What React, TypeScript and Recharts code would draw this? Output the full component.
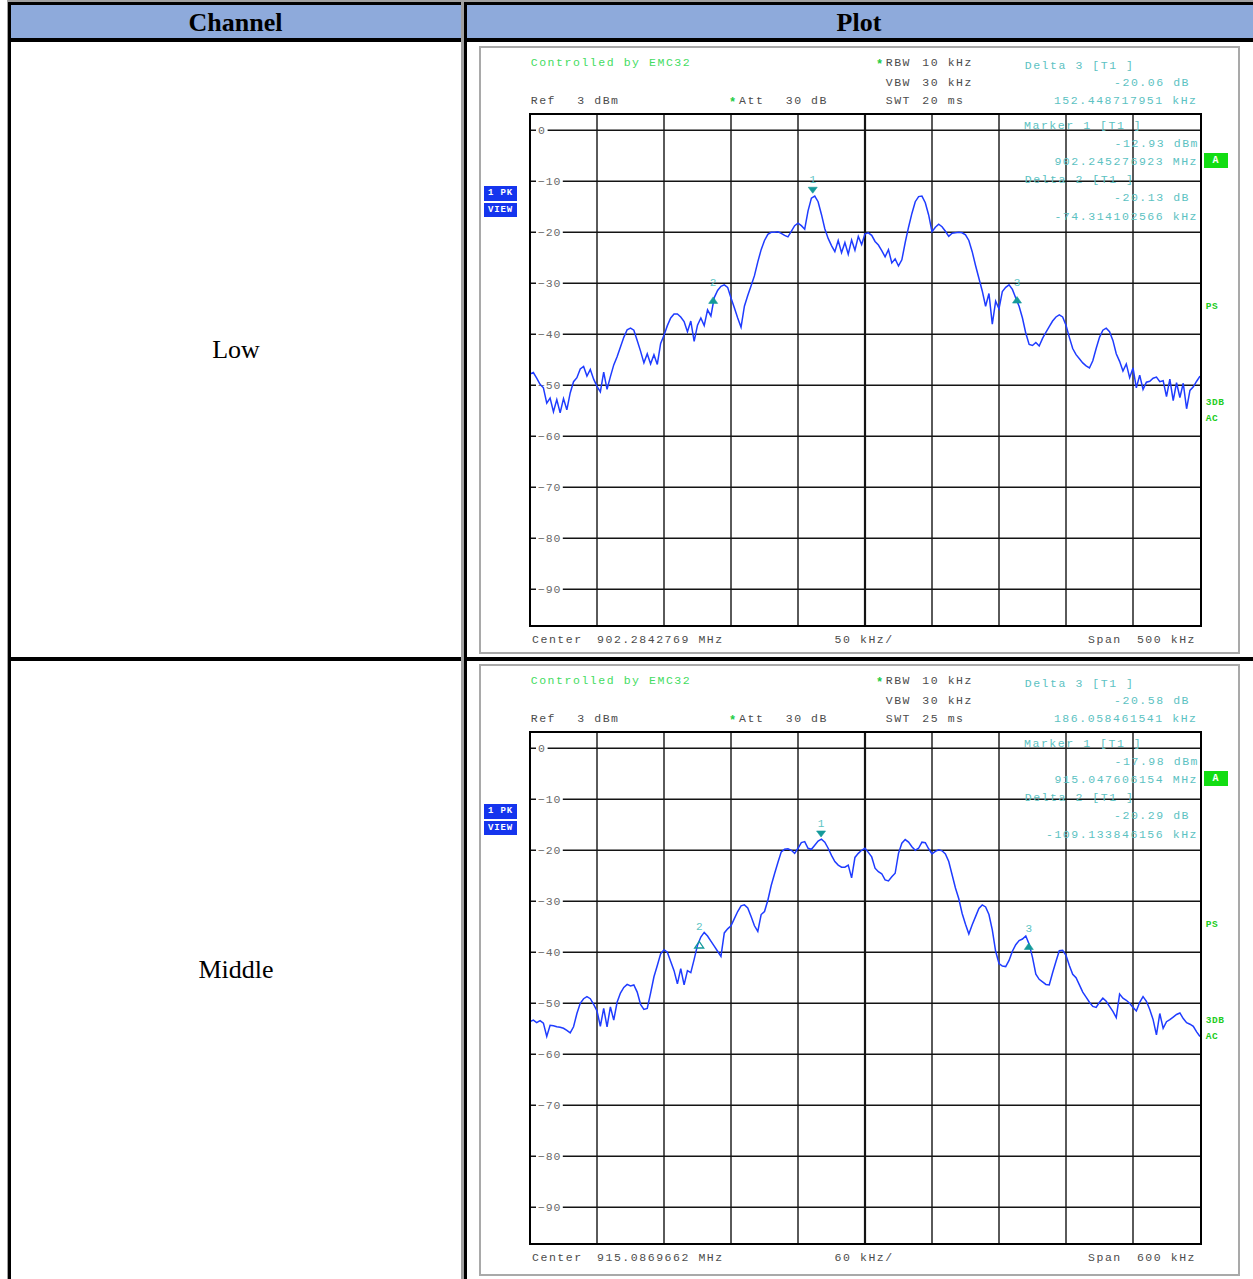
import React from 'react';
import { LineChart, Line, XAxis, YAxis, ReferenceLine, ReferenceDot } from 'recharts';

const PAGE_W = 1253;
const PAGE_H = 1279;
const MONO = '"Liberation Mono", "DejaVu Sans Mono", monospace';
const SERIF = '"Liberation Serif", "Times New Roman", serif';

const GRAY_TXT = '#4c4c4c';
const TEAL_TXT = '#5cc2c2';
const GREEN_TXT = '#44dc62';
const TRACE = '#1f3cff';
const MARK = '#149a9a';

// screen geometry of the analyzer graticule
const PLOT_X = 530;
const PLOT_Y = 115;
const PLOT_W = 670;
const PLOT_H = 510;
const REF_LEVEL = 3;
const LEVEL_RANGE = 100;

const CHANNELS = ['Low', 'Middle'];
const LEVEL_TICKS = [0, -10, -20, -30, -40, -50, -60, -70, -80, -90];
const DIVISIONS = [1, 2, 3, 4, 5, 6, 7, 8, 9];

// trace levels (dBm), 201 sweep points across the span
const LOW_LEVELS = [
  -47.8, -47.5, -48.6, -49.8, -50.5, -53.5, -52.5, -55.2, -52.8, -55.4,
  -52.6, -54.8, -51.5, -49.3, -48.5, -46.8, -46.3, -48.2, -46.9, -48.8,
  -50.2, -51.3, -47.4, -50.8, -48.3, -46.0, -44.4, -42.5, -40.6, -39.1,
  -38.8, -39.2, -41.2, -43.3, -45.6, -43.8, -45.8, -44.0, -45.9, -41.8,
  -40.2, -38.3, -36.8, -36.0, -36.0, -36.6, -37.5, -39.5, -37.4, -41.4,
  -38.2, -36.8, -38.3, -35.2, -36.4, -32.8, -31.4, -30.6, -30.3, -30.8,
  -32.9, -34.8, -36.8, -38.6, -34.5, -32.4, -30.5, -28.5, -25.8, -23.4,
  -21.6, -20.4, -20.0, -20.0, -19.9, -20.2, -20.6, -20.9, -19.8, -18.7,
  -18.2, -18.7, -19.4, -15.8, -13.3, -12.9, -14.0, -16.5, -19.3, -21.2,
  -22.6, -23.8, -21.6, -24.0, -22.0, -24.3, -21.5, -23.5, -20.8, -22.4,
  -20.3, -20.1, -20.6, -21.8, -22.5, -23.6, -24.8, -23.4, -26.0, -25.2,
  -26.6, -25.4, -22.0, -19.0, -16.3, -14.0, -13.0, -12.9, -14.2, -16.6,
  -19.9, -19.0, -18.4, -18.9, -19.8, -20.8, -20.2, -20.1, -20.0, -20.1,
  -20.5, -21.6, -23.8, -26.5, -29.0, -31.5, -34.5, -32.0, -38.0, -33.5,
  -35.0, -31.6, -30.8, -30.3, -31.2, -32.9, -34.5, -36.8, -39.8, -42.0,
  -42.2, -41.6, -42.3, -40.8, -39.6, -38.5, -37.4, -36.6, -36.2, -36.6,
  -38.2, -40.6, -42.8, -44.0, -44.8, -45.6, -46.2, -46.6, -45.2, -42.8,
  -40.6, -39.2, -38.8, -39.5, -41.2, -43.8, -45.3, -47.2, -45.8, -48.5,
  -46.6, -50.5, -48.0, -50.8, -49.4, -49.2, -48.6, -48.4, -49.3, -49.1,
  -52.2, -48.8, -53.0, -49.5, -52.4, -49.6, -54.6, -51.0, -50.3, -49.2,
  -48.2,
];

const MID_LEVELS = [
  -53.6, -53.3, -53.8, -53.4, -53.9, -56.5, -54.3, -54.4, -54.6, -54.7,
  -54.9, -55.3, -55.8, -54.6, -52.0, -50.0, -49.1, -48.7, -49.1, -50.2,
  -51.5, -54.5, -51.0, -54.6, -50.7, -53.3, -49.8, -48.0, -46.9, -46.3,
  -46.6, -46.4, -47.8, -50.2, -51.2, -51.0, -48.0, -44.8, -42.6, -40.3,
  -39.5, -40.0, -41.8, -43.6, -46.2, -43.2, -46.4, -43.6, -44.0, -41.4,
  -38.6, -37.0, -36.1, -36.8, -37.8, -38.8, -39.8, -40.8, -36.2, -35.4,
  -34.8, -33.4, -32.0, -30.9, -30.7, -31.3, -33.0, -34.8, -35.9, -32.6,
  -32.0, -29.8, -26.9, -24.6, -22.4, -20.3, -19.8, -19.7, -20.0, -20.6,
  -19.6, -18.5, -18.3, -19.6, -19.8, -19.0, -18.2, -17.8, -18.4, -19.6,
  -21.0, -22.2, -22.9, -23.3, -23.3, -22.9, -25.4, -21.4, -20.6, -20.0,
  -19.6, -20.4, -21.3, -23.5, -24.2, -24.6, -25.8, -26.0, -25.2, -24.5,
  -20.6, -18.6, -17.9, -18.4, -19.3, -20.0, -19.6, -18.4, -18.5, -19.7,
  -20.7, -20.2, -19.9, -20.1, -20.7, -22.2, -24.8, -27.4, -29.5, -32.4,
  -34.5, -36.4, -34.6, -33.0, -31.4, -30.7, -31.1, -32.6, -35.6, -39.8,
  -42.2, -42.7, -42.8, -41.6, -39.8, -38.5, -37.7, -37.4, -36.8, -38.4,
  -41.0, -44.3, -45.3, -45.8, -46.3, -46.4, -44.0, -41.8, -39.7, -39.6,
  -40.6, -42.6, -44.3, -45.0, -46.4, -47.8, -48.8, -49.8, -50.6, -50.8,
  -49.8, -49.0, -49.6, -50.6, -51.6, -52.8, -48.2, -49.0, -49.4, -50.0,
  -50.8, -51.5, -49.8, -48.7, -49.6, -51.2, -53.2, -56.2, -52.0, -54.9,
  -53.6, -53.2, -52.7, -52.2, -51.9, -53.0, -53.8, -54.1, -54.5, -55.6,
  -56.5,
];

// markers: offset from center (kHz) and level (dBm)
type Mk = { id: string; f: number; v: number; kind: 'down' | 'up'; hollow?: boolean };
const LOW_MARKERS: Mk[] = [
  { id: '1', f: -39.0, v: -12.93, kind: 'down' },
  { id: '2', f: -113.31, v: -33.06, kind: 'up' },
  { id: '3', f: 113.45, v: -32.99, kind: 'up' },
];
const MID_MARKERS: Mk[] = [
  { id: '1', f: -39.36, v: -17.98, kind: 'down' },
  { id: '2', f: -148.49, v: -38.27, kind: 'up', hollow: true },
  { id: '3', f: 146.7, v: -38.56, kind: 'up' },
];

// delta 3 level, delta 3 freq, marker 1 level, marker 1 freq, delta 2 level, delta 2 freq
const LOW_READOUT = ['-20.06 dB', '152.448717951 kHz', '-12.93 dBm', '902.245276923 MHz', '-20.13 dB', '-74.314102566 kHz'];
const MID_READOUT = ['-20.58 dB', '186.058461541 kHz', '-17.98 dBm', '915.047606154 MHz', '-20.29 dB', '-109.133846156 kHz'];

// sweep time, center frequency, per-division, span
const LOW_SWEEP = ['20 ms', '902.2842769 MHz', '50 kHz/', '500 kHz'];
const MID_SWEEP = ['25 ms', '915.0869662 MHz', '60 kHz/', '600 kHz'];
const SPANS = [500, 600];

type TxtProps = {
  x?: number; r?: number; y: number; color?: string; size?: number;
  bold?: boolean; spacing?: number; children: React.ReactNode;
};

const Txt = ({ x = 0, r, y, color = GRAY_TXT, size = 11.5, bold = false, spacing = 1.55, children }: TxtProps) => (
  <div
    style={{
      position: 'absolute',
      top: y - 7,
      ...(r !== undefined ? { right: PAGE_W - r - 1 - spacing } : { left: x - 1 }),
      height: 16,
      lineHeight: '16px',
      fontFamily: MONO,
      fontSize: size,
      letterSpacing: spacing,
      color,
      whiteSpace: 'pre',
      fontWeight: bold ? 700 : 400,
    }}
  >
    {children}
  </div>
);

const Badge = ({ x, y, w, h, bg, text, size = 9 }: { x: number; y: number; w: number; h: number; bg: string; text: string; size?: number }) => (
  <div
    style={{
      position: 'absolute', left: x, top: y, width: w, height: h, background: bg, color: '#fff',
      fontFamily: MONO, fontWeight: 700, fontSize: size, lineHeight: `${h}px`, textAlign: 'center',
      letterSpacing: 0.8, whiteSpace: 'pre',
    }}
  >
    {text}
  </div>
);

// graticule level label, written over a white patch on its line
const levelLabel = (value: number) => (props: any) => {
  const vb = props.viewBox || { x: 0, y: 0 };
  const text = value < 0 ? `\u2212${Math.abs(value)}` : String(value);
  return (
    <g>
      <rect x={vb.x + 6} y={vb.y - 6} width={4 + text.length * 7.6} height={12} fill="#fff" />
      <text x={vb.x + 8} y={vb.y + 4} fill="#6a6a6a" fontFamily={MONO} fontSize={11.5} style={{ letterSpacing: 0.8 }}>
        {text}
      </text>
    </g>
  );
};

const MarkerGlyph = ({ cx, cy, m }: { cx: number; cy: number; m: Mk }) => {
  const tri = m.kind === 'down'
    ? `${cx - 4.5},${cy - 9} ${cx + 4.5},${cy - 9} ${cx},${cy - 3}`
    : `${cx - 4.5},${cy + 4.5} ${cx + 4.5},${cy + 4.5} ${cx},${cy - 2}`;
  return (
    <g>
      <polygon points={tri} fill={m.hollow ? 'none' : MARK} stroke={MARK} strokeWidth={m.hollow ? 1.3 : 0.6} />
      <text x={cx} y={cy - 13} textAnchor="middle" fill="#5cc4c4" fontFamily={MONO} fontSize={11}>
        {m.id}
      </text>
    </g>
  );
};

type PanelProps = { dy: number; frameH: number; span: number; levels: number[]; markers: Mk[]; readout: string[]; sweep: string[] };

const SpectrumPanel = ({ dy, frameH, span, levels, markers, readout, sweep }: PanelProps) => {
  const half = span / 2;
  const step = span / (levels.length - 1);
  const data = levels.map((v, i) => ({ f: -half + i * step, v }));
  const vlines = DIVISIONS.map((k) => -half + (k * span) / 10);

  return (
    <>
      {/* light frame round the screenshot */}
      <div style={{ position: 'absolute', left: 479, top: 46 + dy, width: 761, height: frameH, border: '2px solid #a9a9a9', boxSizing: 'border-box' }} />

      <Txt x={531.7} y={62 + dy} color={GREEN_TXT}>Controlled by EMC32</Txt>
      <Txt x={531.7} y={100 + dy}>Ref</Txt>
      <Txt x={578.3} y={100 + dy}>3 dBm</Txt>
      <Txt x={730} y={102 + dy} color="#22cc44" size={12} bold spacing={0}>*</Txt>
      <Txt x={740} y={100 + dy}>Att</Txt>
      <Txt x={786.7} y={100 + dy}>30 dB</Txt>
      <Txt x={877} y={64 + dy} color="#22cc44" size={12} bold spacing={0}>*</Txt>
      <Txt x={886.7} y={62 + dy}>RBW</Txt>
      <Txt x={923.3} y={62 + dy}>10 kHz</Txt>
      <Txt x={886.7} y={82 + dy}>VBW</Txt>
      <Txt x={923.3} y={82 + dy}>30 kHz</Txt>
      <Txt x={886.7} y={100 + dy}>SWT</Txt>
      <Txt x={923.3} y={100 + dy}>{sweep[0]}</Txt>

      <Txt x={1025.7} y={64.5 + dy} color={TEAL_TXT}>Delta 3 [T1 ]</Txt>
      <Txt r={1187.5} y={82 + dy} color={TEAL_TXT}>{readout[0]}</Txt>
      <Txt r={1195} y={100 + dy} color={TEAL_TXT}>{readout[1]}</Txt>

      <Badge x={484} y={186 + dy} w={33} h={15} bg="#1535ee" text="1 PK" />
      <Badge x={484} y={203 + dy} w={33} h={14} bg="#1535ee" text="VIEW" />

      <div style={{ position: 'absolute', left: PLOT_X, top: PLOT_Y + dy }}>
        <LineChart width={PLOT_W} height={PLOT_H} data={data} margin={{ top: 0, right: 0, bottom: 0, left: 0 }}>
          <XAxis dataKey="f" type="number" domain={[-half, half]} hide allowDataOverflow />
          <YAxis type="number" domain={[REF_LEVEL - LEVEL_RANGE, REF_LEVEL]} hide allowDataOverflow />
          {vlines.map((f) => (
            <ReferenceLine key={`v${f}`} x={f} stroke="#141414" strokeWidth={Math.abs(f) < 1e-9 ? 2.2 : 1.4} />
          ))}
          {LEVEL_TICKS.map((v) => (
            <ReferenceLine key={`h${v}`} y={v} stroke="#141414" strokeWidth={1.4} label={levelLabel(v)} />
          ))}
          <Line type="linear" dataKey="v" stroke={TRACE} strokeWidth={1.5} dot={false} isAnimationActive={false} />
          {markers.map((m) => (
            <ReferenceDot
              key={m.id}
              x={m.f}
              y={m.v}
              r={3}
              shape={(p: any) => <MarkerGlyph cx={p.cx} cy={p.cy} m={m} />}
            />
          ))}
        </LineChart>
      </div>
      <div style={{ position: 'absolute', left: 529, top: 113 + dy, width: 673, height: 514, border: '2px solid #000', boxSizing: 'border-box' }} />

      <Txt x={1025} y={125 + dy} color={TEAL_TXT}>Marker 1 [T1 ]</Txt>
      <Txt r={1196.5} y={142.5 + dy} color={TEAL_TXT}>{readout[2]}</Txt>
      <Txt r={1195.5} y={161 + dy} color={TEAL_TXT}>{readout[3]}</Txt>
      <Txt x={1025.7} y={179 + dy} color={TEAL_TXT}>Delta 2 [T1 ]</Txt>
      <Txt r={1187.5} y={196.7 + dy} color={TEAL_TXT}>{readout[4]}</Txt>
      <Txt r={1195.5} y={215.5 + dy} color={TEAL_TXT}>{readout[5]}</Txt>

      <Badge x={1204} y={153 + dy} w={24} h={15} bg="#12dd12" text="A" size={10} />
      <Txt x={1206.7} y={306 + dy} color="#22cc22" size={9.5} bold spacing={0.6}>PS</Txt>
      <Txt x={1206.7} y={402 + dy} color="#22cc22" size={9.5} bold spacing={0.6}>3DB</Txt>
      <Txt x={1206.7} y={418 + dy} color="#22cc22" size={9.5} bold spacing={0.6}>AC</Txt>

      <Txt x={533} y={639 + dy}>Center</Txt>
      <Txt x={598} y={639 + dy}>{sweep[1]}</Txt>
      <Txt x={835.6} y={639 + dy}>{sweep[2]}</Txt>
      <Txt x={1089} y={639 + dy}>Span</Txt>
      <Txt r={1193.5} y={639 + dy}>{sweep[3]}</Txt>
    </>
  );
};

const Rule = ({ x, y, w, h, c }: { x: number; y: number; w: number; h: number; c: string }) => (
  <div style={{ position: 'absolute', left: x, top: y, width: w, height: h, background: c }} />
);

export default function App() {
  return (
    <div style={{ position: 'absolute', left: 0, top: 0, width: PAGE_W, height: PAGE_H, background: '#fff', overflow: 'hidden', fontFamily: SERIF }}>
      {/* header row */}
      <Rule x={10} y={5} w={451} h={33} c="#8eaadb" />
      <Rule x={467} y={5} w={786} h={33} c="#8eaadb" />
      <div style={{ position: 'absolute', left: 10, top: 5, width: 451, height: 35, display: 'flex', alignItems: 'center', justifyContent: 'center', fontSize: 26, fontWeight: 700 }}>Channel</div>
      <div style={{ position: 'absolute', left: 467, top: 5, width: 784, height: 35, display: 'flex', alignItems: 'center', justifyContent: 'center', fontSize: 26, fontWeight: 700 }}>Plot</div>

      {/* table rules */}
      <Rule x={7} y={0} w={1246} h={2} c="#a0a0a0" />
      <Rule x={7} y={2} w={1246} h={3} c="#000" />
      <Rule x={7} y={38} w={1246} h={4} c="#000" />
      <Rule x={7} y={657} w={1246} h={4} c="#000" />
      <Rule x={7} y={0} w={1} h={PAGE_H} c="#a0a0a0" />
      <Rule x={8} y={2} w={3} h={PAGE_H} c="#000" />
      <Rule x={461} y={0} w={3} h={PAGE_H} c="#a0a0a0" />
      <Rule x={464} y={2} w={3} h={PAGE_H} c="#000" />

      <div style={{ position: 'absolute', left: 11, top: 42, width: 450, height: 615, display: 'flex', alignItems: 'center', justifyContent: 'center', fontSize: 26 }}>{CHANNELS[0]}</div>
      <div style={{ position: 'absolute', left: 11, top: 661, width: 450, height: 618, display: 'flex', alignItems: 'center', justifyContent: 'center', fontSize: 26 }}>{CHANNELS[1]}</div>

      <SpectrumPanel dy={0} frameH={608} span={SPANS[0]} levels={LOW_LEVELS} markers={LOW_MARKERS} readout={LOW_READOUT} sweep={LOW_SWEEP} />
      <SpectrumPanel dy={618} frameH={612} span={SPANS[1]} levels={MID_LEVELS} markers={MID_MARKERS} readout={MID_READOUT} sweep={MID_SWEEP} />
    </div>
  );
}
